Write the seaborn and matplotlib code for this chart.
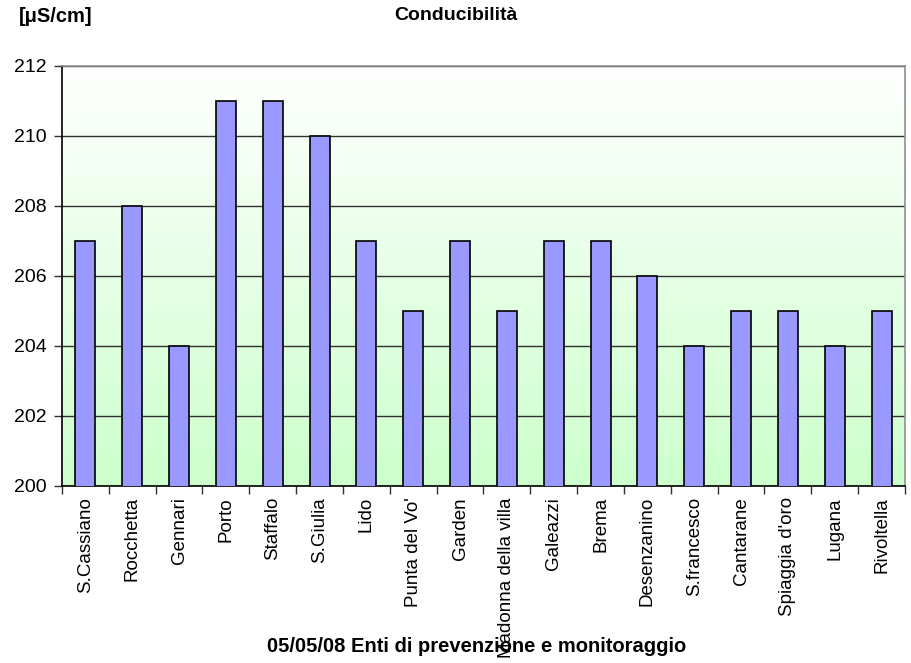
import numpy as np
import matplotlib
matplotlib.use("Agg")
import matplotlib.pyplot as plt
from matplotlib.colors import LinearSegmentedColormap
from matplotlib.ticker import FixedLocator, NullFormatter, FixedFormatter
import seaborn as sns

sites = ["S.Cassiano", "Rocchetta", "Gennari", "Porto", "Staffalo", "S.Giulia",
         "Lido", "Punta del Vo'", "Garden", "Madonna della villa", "Galeazzi",
         "Brema", "Desenzanino", "S.francesco", "Cantarane", "Spiaggia d'oro",
         "Lugana", "Rivoltella"]
conductivity = [207, 208, 204, 211, 211, 210, 207, 205, 207, 205, 207, 207,
                206, 204, 205, 205, 204, 205]
y_ticks = [200, 202, 204, 206, 208, 210, 212]

sns.set_theme(style="white")
plt.rcParams["font.family"] = ["Liberation Sans", "DejaVu Sans"]
plt.rcParams["text.color"] = "black"
plt.rcParams["xtick.color"] = "black"
plt.rcParams["ytick.color"] = "black"

fig = plt.figure(figsize=(9.12, 6.63), dpi=100)
ax = fig.add_axes([62 / 912, 1 - 486 / 663, (905 - 62) / 912, (486 - 66) / 663])

# white-to-green background gradient
grad = np.linspace(0, 1, 256).reshape(-1, 1)
cmap = LinearSegmentedColormap.from_list("bg", ["#FFFFFF", "#CCFFCC"])
ax.imshow(grad, cmap=cmap, aspect="auto", extent=[0, 1, 0, 1],
          transform=ax.transAxes, zorder=0, interpolation="bilinear")

sns.barplot(x=sites, y=conductivity, color="#9999FF", saturation=1,
            edgecolor="black", linewidth=1.2, width=0.43, ax=ax, zorder=3)

ax.set_xlim(-0.5, len(sites) - 0.5)
ax.set_ylim(200, 212)
ax.set_yticks(y_ticks)
ax.set_yticklabels([str(v) for v in y_ticks], fontsize=14)
for v in y_ticks:
    ax.axhline(v, color="#303030", lw=1.0, zorder=1)

# tick marks between categories, labels under the bars
n = len(sites)
ax.xaxis.set_major_locator(FixedLocator(np.arange(n + 1) - 0.5))
ax.xaxis.set_major_formatter(NullFormatter())
ax.xaxis.set_minor_locator(FixedLocator(np.arange(n)))
ax.xaxis.set_minor_formatter(FixedFormatter(sites))
ax.tick_params(axis="x", which="major", direction="out", length=6, width=1,
               color="#303030", bottom=True)
ax.tick_params(axis="x", which="minor", length=0, pad=8, labelsize=13.5,
               labelrotation=90, bottom=True, labelcolor="black")
ax.tick_params(axis="y", direction="out", length=6, width=1, color="#303030",
               left=True, pad=5, labelcolor="black")
ax.set_xlabel("")
ax.set_ylabel("")

for s in ["left", "bottom"]:
    ax.spines[s].set_color("black")
    ax.spines[s].set_linewidth(1.2)
for s in ["top", "right"]:
    ax.spines[s].set_visible(True)
    ax.spines[s].set_color("#909090")
    ax.spines[s].set_linewidth(1.2)

fig.text(19 / 912, 1 - 16 / 663, "[\u03bcS/cm]", fontsize=14.5, fontweight="bold",
         ha="left", va="center", color="black")
fig.text(456 / 912, 1 - 16 / 663, "Conducibilità", fontsize=14, fontweight="bold",
         ha="center", va="center", color="black")
fig.text(477 / 912, 1 - 647 / 663, "05/05/08 Enti di prevenzione e monitoraggio",
         fontsize=14.5, fontweight="bold", ha="center", va="center", zorder=5,
         color="black")

fig.savefig("out.png", dpi=100, facecolor="white")
